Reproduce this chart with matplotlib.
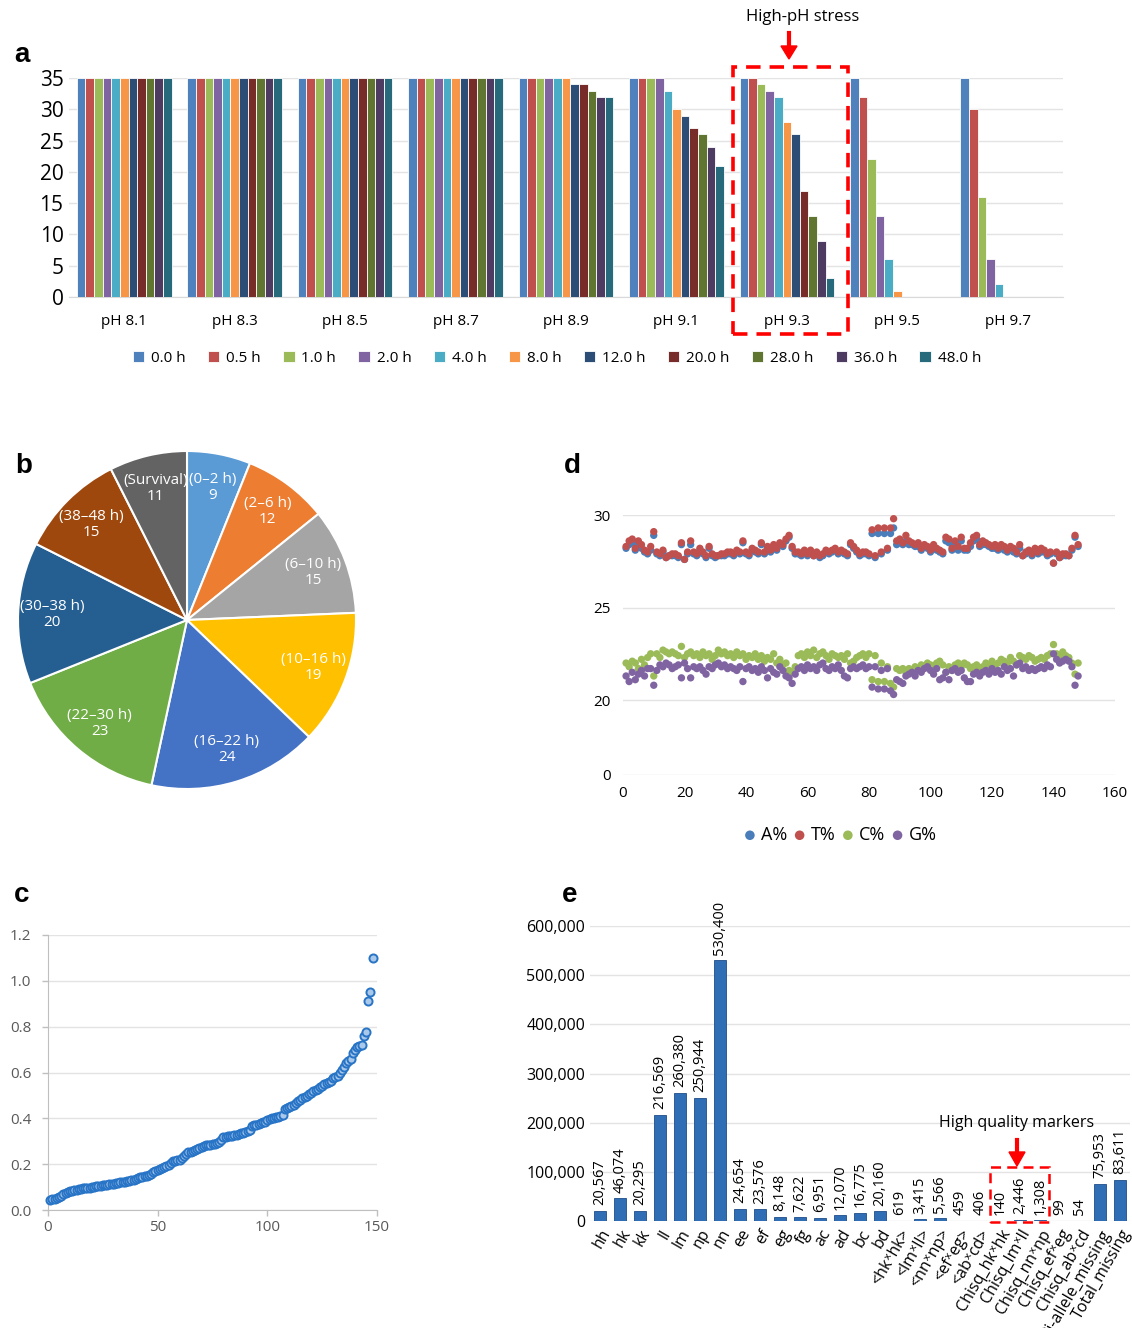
import matplotlib.pyplot as plt
import numpy as np
from matplotlib.patches import Rectangle

plt.rcParams['font.family'] = ['Open Sans', 'DejaVu Sans']

W, H = 1132, 1328


def box(l, t, r, b):
    # pixel box of the reference -> figure fraction
    return [l / W, 1 - b / H, (r - l) / W, (b - t) / H]


# ---------------- panel a data ----------------
ph_groups = ['pH 8.1', 'pH 8.3', 'pH 8.5', 'pH 8.7', 'pH 8.9', 'pH 9.1', 'pH 9.3', 'pH 9.5', 'pH 9.7']
hours = ['0.0 h', '0.5 h', '1.0 h', '2.0 h', '4.0 h', '8.0 h', '12.0 h', '20.0 h', '28.0 h', '36.0 h', '48.0 h']
hour_colors = ['#4F81BD', '#C0504D', '#9BBB59', '#8064A2', '#4BACC6', '#F79646',
               '#2C4D75', '#772C2A', '#5F7530', '#4D3B62', '#276A7C']
surv_81 = [35, 35, 35, 35, 35, 35, 35, 35, 35, 35, 35]
surv_83 = [35, 35, 35, 35, 35, 35, 35, 35, 35, 35, 35]
surv_85 = [35, 35, 35, 35, 35, 35, 35, 35, 35, 35, 35]
surv_87 = [35, 35, 35, 35, 35, 35, 35, 35, 35, 35, 35]
surv_89 = [35, 35, 35, 35, 35, 35, 34, 34, 33, 32, 32]
surv_91 = [35, 35, 35, 35, 33, 30, 29, 27, 26, 24, 21]
surv_93 = [35, 35, 34, 33, 32, 28, 26, 17, 13, 9, 3]
surv_95 = [35, 32, 22, 13, 6, 1, 0, 0, 0, 0, 0]
surv_97 = [35, 30, 16, 6, 2, 0, 0, 0, 0, 0, 0]

# ---------------- panel b data ----------------
death_bins = ['(0–2 h)', '(2–6 h)', '(6–10 h)', '(10–16 h)', '(16–22 h)',
              '(22–30 h)', '(30–38 h)', '(38–48 h)', '(Survival)']
death_counts = [9, 12, 15, 19, 24, 23, 20, 15, 11]
pie_colors = ['#5B9BD5', '#ED7D31', '#A5A5A5', '#FFC000', '#4472C4',
              '#70AD47', '#255E91', '#9E480E', '#636363']

# ---------------- panel c data ----------------
c_values = [0.045, 0.048, 0.050, 0.052, 0.055, 0.060, 0.068, 0.075, 0.080, 0.083,
            0.085, 0.087, 0.089, 0.090, 0.092, 0.094, 0.095, 0.096, 0.098, 0.100,
            0.101, 0.103, 0.104, 0.105, 0.107, 0.108, 0.110, 0.112, 0.113, 0.115,
            0.117, 0.119, 0.121, 0.122, 0.124, 0.126, 0.128, 0.130, 0.133, 0.136,
            0.139, 0.142, 0.145, 0.148, 0.150, 0.153, 0.156, 0.168, 0.172, 0.175,
            0.178, 0.182, 0.186, 0.190, 0.197, 0.205, 0.212, 0.216, 0.218, 0.220,
            0.226, 0.235, 0.245, 0.252, 0.255, 0.257, 0.260, 0.265, 0.272, 0.276,
            0.279, 0.282, 0.284, 0.285, 0.287, 0.289, 0.292, 0.297, 0.305, 0.318,
            0.320, 0.322, 0.323, 0.325, 0.327, 0.329, 0.331, 0.334, 0.338, 0.342,
            0.345, 0.350, 0.365, 0.370, 0.372, 0.375, 0.378, 0.382, 0.386, 0.392,
            0.398, 0.400, 0.402, 0.404, 0.406, 0.410, 0.415, 0.440, 0.445, 0.448,
            0.452, 0.460, 0.468, 0.475, 0.482, 0.488, 0.493, 0.498, 0.505, 0.512,
            0.518, 0.524, 0.530, 0.535, 0.540, 0.548, 0.553, 0.558, 0.565, 0.575,
            0.580, 0.585, 0.600, 0.612, 0.625, 0.640, 0.650, 0.658, 0.685, 0.700,
            0.712, 0.715, 0.720, 0.760, 0.775, 0.910, 0.950, 1.100]

# ---------------- panel d data ----------------
a_pct = [28.2, 28.4, 28.5, 28.1, 28.4, 28.2, 28.0, 27.9, 28.1, 28.9,
         27.9, 27.8, 28.0, 27.7, 27.8, 27.8, 27.8, 27.7, 28.4, 27.6,
         27.9, 28.4, 27.9, 27.8, 28.1, 27.9, 27.7, 28.2, 27.8, 27.7,
         27.8, 27.8, 27.8, 27.9, 27.9, 27.8, 28.0, 27.9, 28.5, 27.9,
         27.8, 28.1, 28.0, 27.9, 28.4, 27.9, 28.2, 28.0, 28.3, 28.1,
         28.4, 28.3, 28.6, 28.8, 28.2, 27.9, 27.9, 27.8, 28.0, 27.8,
         28.0, 27.8, 27.9, 27.7, 27.8, 28.0, 27.9, 28.0, 28.1, 27.9,
         28.0, 27.9, 27.8, 28.4, 28.2, 28.0, 27.8, 27.9, 27.9, 27.8,
         29.0, 27.7, 29.0, 27.9, 29.0, 28.1, 29.0, 29.3, 28.4, 28.5,
         28.4, 28.6, 28.4, 28.4, 28.3, 28.3, 28.1, 28.3, 28.2, 28.0,
         28.3, 28.1, 28.0, 27.9, 28.6, 28.5, 28.1, 28.4, 28.1, 28.6,
         28.1, 28.1, 28.3, 28.6, 28.7, 28.3, 28.4, 28.4, 28.3, 28.2,
         28.2, 28.1, 28.2, 28.1, 28.0, 28.1, 28.0, 27.9, 28.2, 27.8,
         27.9, 28.0, 27.8, 28.1, 27.9, 28.0, 28.0, 27.8, 27.9, 27.4,
         27.9, 27.7, 27.8, 27.8, 27.8, 28.1, 28.8, 28.3]
t_pct = [28.3, 28.6, 28.7, 28.2, 28.6, 28.4, 28.1, 28.0, 28.3, 29.1,
         28.0, 27.9, 28.1, 27.7, 27.8, 27.9, 27.9, 27.8, 28.5, 27.6,
         28.0, 28.6, 28.0, 27.9, 28.2, 28.0, 27.8, 28.3, 27.9, 27.8,
         27.8, 27.9, 27.9, 28.0, 28.0, 27.9, 28.1, 28.0, 28.6, 28.0,
         27.9, 28.2, 28.1, 28.0, 28.5, 28.0, 28.3, 28.1, 28.4, 28.2,
         28.5, 28.4, 28.7, 28.9, 28.3, 28.0, 28.0, 27.9, 28.1, 27.9,
         28.1, 27.8, 28.0, 27.8, 27.9, 28.1, 28.0, 28.1, 28.2, 28.0,
         28.1, 28.0, 27.9, 28.5, 28.3, 28.1, 27.9, 28.0, 28.0, 27.9,
         29.2, 27.8, 29.3, 28.0, 29.3, 28.2, 29.3, 29.8, 28.6, 28.7,
         28.5, 28.9, 28.6, 28.5, 28.4, 28.5, 28.2, 28.4, 28.3, 28.1,
         28.4, 28.2, 28.1, 28.0, 28.8, 28.7, 28.2, 28.6, 28.3, 28.8,
         28.2, 28.2, 28.5, 28.8, 28.9, 28.4, 28.6, 28.5, 28.4, 28.3,
         28.4, 28.2, 28.4, 28.3, 28.1, 28.3, 28.2, 28.0, 28.4, 27.8,
         28.0, 28.1, 27.9, 28.2, 28.0, 28.2, 28.1, 27.9, 28.0, 27.4,
         28.0, 27.7, 27.9, 27.9, 27.8, 28.2, 28.9, 28.4]
c_pct = [22.0, 21.8, 22.1, 22.0, 21.7, 22.2, 21.9, 22.3, 22.5, 21.3,
         22.5, 22.3, 22.7, 22.6, 22.5, 22.6, 22.5, 22.4, 22.9, 22.3,
         22.5, 22.6, 22.4, 22.5, 22.3, 22.6, 22.4, 22.5, 22.2, 22.4,
         22.7, 22.5, 22.6, 22.4, 22.5, 22.3, 22.6, 22.4, 22.5, 22.2,
         22.4, 22.3, 22.5, 22.2, 22.4, 22.1, 22.3, 22.2, 22.5, 22.0,
         22.2, 21.9, 22.0, 21.6, 21.5, 21.8, 22.4, 22.5, 22.3, 22.6,
         22.4, 22.7, 22.3, 22.5, 22.6, 22.4, 22.2, 22.5, 22.4, 22.3,
         22.4, 22.2, 22.5, 22.0, 22.1, 22.3, 22.4, 22.5, 22.3, 22.5,
         21.1, 22.4, 21.0, 22.0, 21.0, 21.8, 20.9, 20.7, 21.7, 21.6,
         21.7, 21.5, 21.7, 21.6, 21.8, 21.7, 21.9, 21.8, 22.0, 21.9,
         21.7, 22.0, 22.1, 21.9, 21.5, 21.8, 21.6, 21.9, 22.0, 21.8,
         22.0, 21.9, 21.7, 21.8, 21.9, 21.7, 21.8, 22.0, 21.9, 22.1,
         21.9, 22.0, 22.2, 22.1, 22.0, 22.3, 22.1, 21.9, 22.4, 22.3,
         22.2, 22.4, 22.3, 22.1, 22.2, 22.3, 22.2, 22.4, 22.5, 23.0,
         22.5, 22.3, 22.6, 22.4, 22.3, 22.0, 21.4, 22.0]
g_pct = [21.3, 21.0, 21.5, 21.1, 21.4, 21.6, 21.3, 21.7, 21.7, 20.8,
         21.6, 21.9, 21.8, 22.0, 21.9, 21.7, 21.8, 21.9, 21.2, 22.0,
         21.7, 21.2, 21.8, 21.7, 21.8, 21.6, 21.4, 21.8, 21.7, 21.9,
         22.0, 21.8, 21.9, 21.7, 21.8, 21.7, 21.6, 21.8, 21.0, 21.7,
         21.8, 21.6, 21.7, 21.5, 21.8, 21.6, 21.2, 21.7, 21.5, 21.4,
         21.8, 21.6, 21.3, 21.2, 20.9, 21.4, 21.7, 21.8, 21.6, 21.9,
         21.7, 21.8, 21.6, 21.9, 22.0, 21.7, 21.6, 21.8, 21.7, 21.9,
         21.6, 21.3, 21.2, 21.7, 21.8, 21.7, 21.8, 21.9, 21.7, 21.8,
         20.7, 21.8, 20.6, 21.6, 20.6, 21.7, 20.5, 20.3, 21.1, 21.0,
         20.9, 21.3, 21.4, 21.5, 21.3, 21.6, 21.5, 21.7, 21.8, 21.6,
         21.4, 21.7, 21.1, 21.2, 21.5, 21.1, 21.6, 21.7, 21.5, 21.6,
         21.2, 21.0, 21.0, 21.4, 21.5, 21.3, 21.5, 21.6, 21.4, 21.7,
         21.5, 21.6, 21.4, 21.8, 21.6, 21.7, 21.3, 21.9, 22.0, 21.7,
         21.8, 21.6, 21.7, 21.6, 21.7, 21.8, 21.7, 21.9, 21.8, 22.5,
         22.2, 22.0, 22.1, 22.2, 22.1, 21.8, 20.8, 21.3]

# ---------------- panel e data ----------------
marker_types = ['hh', 'hk', 'kk', 'll', 'lm', 'np', 'nn', 'ee', 'ef', 'eg', 'fg', 'ac', 'ad', 'bc', 'bd',
                '<hkˣhk>', '<lmˣll>', '<nnˣnp>', '<efˣeg>', '<abˣcd>',
                'Chisq_hkˣhk', 'Chisq_lmˣll', 'Chisq_nnˣnp', 'Chisq_efˣeg', 'Chisq_abˣcd',
                'Bi-allele_missing', 'Total_missing']
marker_counts = [20567, 46074, 20295, 216569, 260380, 250944, 530400, 24654, 23576, 8148, 7622,
                 6951, 12070, 16775, 20160, 619, 3415, 5566, 459, 406, 140, 2446, 1308, 99, 54,
                 75953, 83611]

fig = plt.figure(figsize=(W / 100, H / 100), dpi=100)
grid_c = '#E3E3E3'
panel_font = dict(fontsize=20, fontweight='bold', family='Liberation Sans')

# ================= a =================
ax = fig.add_axes(box(69, 78, 1063, 297))
surv = np.array([surv_81, surv_83, surv_85, surv_87, surv_89, surv_91, surv_93, surv_95, surv_97])
x = np.arange(len(ph_groups))
bw = 0.078
for i, h in enumerate(hours):
    ax.bar(x + (i - 5) * bw, surv[:, i], bw, color=hour_colors[i], edgecolor='white',
           linewidth=0.6, label=h, zorder=3)
ax.set_xlim(-0.5, 8.5)
ax.set_ylim(0, 35)
ax.set_yticks(range(0, 36, 5))
ax.set_xticks(x)
ax.set_xticklabels(ph_groups, fontsize=11)
ax.tick_params(axis='y', length=0, labelsize=15, pad=4)
ax.tick_params(axis='x', length=0, pad=12)
ax.grid(axis='y', color=grid_c, lw=1, zorder=0)
for s in ['top', 'right', 'left']:
    ax.spines[s].set_visible(False)
ax.spines['bottom'].set_color('#D9D9D9')
fig.legend(*ax.get_legend_handles_labels(), loc='center', bbox_to_anchor=(557 / W, 1 - 358 / H),
           ncol=11, frameon=False, fontsize=11, handlelength=0.75, handleheight=0.75,
           handletextpad=0.45, columnspacing=1.45)
fig.text(22 / W, 1 - 55 / H, 'a', ha='center', va='center', **panel_font)
fig.text(803 / W, 1 - 17 / H, 'High-pH stress', ha='center', va='center', fontsize=12)
fig.add_artist(plt.Line2D([789 / W, 789 / W], [1 - 33 / H, 1 - 48 / H], color='red', lw=3))
fig.patches.append(plt.Polygon([[781 / W, 1 - 46 / H], [797 / W, 1 - 46 / H], [789 / W, 1 - 59 / H]],
                               closed=True, color='red', transform=fig.transFigure))
fig.patches.append(Rectangle((733 / W, 1 - 334 / H), 115 / W, 267 / H, fill=False, ec='red',
                             lw=2.6, ls=(0, (4, 2.5)), transform=fig.transFigure))

# ================= b =================
axb = fig.add_axes(box(18, 451, 356, 789))
wedges, _ = axb.pie(death_counts, colors=pie_colors, startangle=90, counterclock=False,
                    wedgeprops=dict(edgecolor='white', linewidth=1.5))
for w, lab, n in zip(wedges, death_bins, death_counts):
    ang = np.deg2rad((w.theta1 + w.theta2) / 2)
    r = 0.8
    axb.text(r * np.cos(ang), r * np.sin(ang), f'{lab}\n{n}', ha='center', va='center',
             color='white', fontsize=11, linespacing=1.1)
axb.set_xlim(-1, 1)
axb.set_ylim(-1, 1)
fig.text(24 / W, 1 - 466 / H, 'b', ha='center', va='center', **panel_font)

# ================= c =================
axc = fig.add_axes(box(48, 935, 377, 1210))
idx_c = np.arange(1, len(c_values) + 1)
axc.scatter(idx_c, c_values, s=34, facecolor='#A9C8EA', edgecolor='#2874C6', linewidth=1.4,
            zorder=3, clip_on=False)
axc.set_xlim(0, 150)
axc.set_ylim(0, 1.2)
axc.set_xticks([0, 50, 100, 150])
axc.set_yticks(np.arange(0, 1.21, 0.2))
axc.set_yticklabels([f'{v:.1f}' for v in np.arange(0, 1.21, 0.2)])
axc.tick_params(labelsize=11, colors='#BFBFBF', labelcolor='#595959', length=4, width=1)
axc.tick_params(axis='y', pad=8)
axc.grid(axis='y', color=grid_c, lw=1, zorder=0)
for s in ['top', 'right']:
    axc.spines[s].set_visible(False)
for s in ['left', 'bottom']:
    axc.spines[s].set_color('#BFBFBF')
fig.text(22 / W, 1 - 895 / H, 'c', ha='center', va='center', **panel_font)

# ================= d =================
def fwd(v):
    v = np.asarray(v, dtype=float)
    return np.where(v >= 20, v, 15.95 + v * 0.2025)


def inv(y):
    y = np.asarray(y, dtype=float)
    return np.where(y >= 20, y, (y - 15.95) / 0.2025)


axd = fig.add_axes(box(623, 515, 1115, 775))
idx_d = np.arange(1, len(a_pct) + 1)
for vals, col, lab in [(a_pct, '#4A7EBB', 'A%'), (t_pct, '#C0504D', 'T%'),
                       (c_pct, '#9BBB59', 'C%'), (g_pct, '#8064A2', 'G%')]:
    axd.scatter(idx_d, vals, s=28, color=col, edgecolor='none', label=lab, zorder=3, clip_on=False)
axd.set_yscale('function', functions=(fwd, inv))
axd.set_ylim(0, 30)
axd.set_xlim(0, 160)
axd.set_yticks([0, 20, 25, 30])
axd.set_yticklabels(['0', '20', '25', '30'])
axd.set_xticks(range(0, 161, 20))
axd.tick_params(length=0, labelsize=11)
axd.tick_params(axis='y', pad=9)
axd.tick_params(axis='x', pad=8)
axd.grid(axis='y', color=grid_c, lw=1, zorder=0)
for s in axd.spines.values():
    s.set_visible(False)
fig.legend(*axd.get_legend_handles_labels(), loc='center', bbox_to_anchor=(840 / W, 1 - 835 / H),
           ncol=4, frameon=False, fontsize=13, handlelength=0.7, handletextpad=0.25,
           columnspacing=0.35, markerscale=1.3)
fig.text(572 / W, 1 - 466 / H, 'd', ha='center', va='center', **panel_font)

# ================= e =================
axe = fig.add_axes(box(590, 926, 1130, 1221))
xe = np.arange(len(marker_types))
bars = axe.bar(xe, marker_counts, 0.62, color='#2F6DB5', edgecolor='#1F4E8C', linewidth=0.6, zorder=3)
for b, v in zip(bars, marker_counts):
    axe.annotate(f'{v:,}', (b.get_x() + b.get_width() / 2, b.get_height()), xytext=(0, 4),
                 textcoords='offset points', rotation=90, ha='center', va='bottom', fontsize=10.5)
axe.set_xlim(-0.5, len(marker_types) - 0.5)
axe.set_ylim(0, 600000)
axe.set_yticks(range(0, 600001, 100000))
axe.set_yticklabels([f'{v:,}' for v in range(0, 600001, 100000)])
axe.set_xticks(xe)
axe.set_xticklabels(marker_types, rotation=60, ha='right', rotation_mode='anchor', fontsize=11.5)
axe.tick_params(length=0, labelsize=11.5)
axe.tick_params(axis='x', labelsize=11.5, pad=4)
axe.grid(axis='y', color=grid_c, lw=1, zorder=0)
for s in axe.spines.values():
    s.set_visible(False)
fig.text(570 / W, 1 - 895 / H, 'e', ha='center', va='center', **panel_font)
fig.text(1017 / W, 1 - 1123 / H, 'High quality markers', ha='center', va='center', fontsize=11.5)
fig.add_artist(plt.Line2D([1017 / W, 1017 / W], [1 - 1140 / H, 1 - 1154 / H], color='red', lw=3))
fig.patches.append(plt.Polygon([[1009 / W, 1 - 1152 / H], [1025 / W, 1 - 1152 / H], [1017 / W, 1 - 1166 / H]],
                               closed=True, color='red', transform=fig.transFigure))
fig.patches.append(Rectangle((990 / W, 1 - 1222 / H), 59 / W, 55 / H, fill=False, ec='red',
                             lw=1.8, ls=(0, (4, 2.5)), transform=fig.transFigure))

fig.savefig('out.png', dpi=100)
